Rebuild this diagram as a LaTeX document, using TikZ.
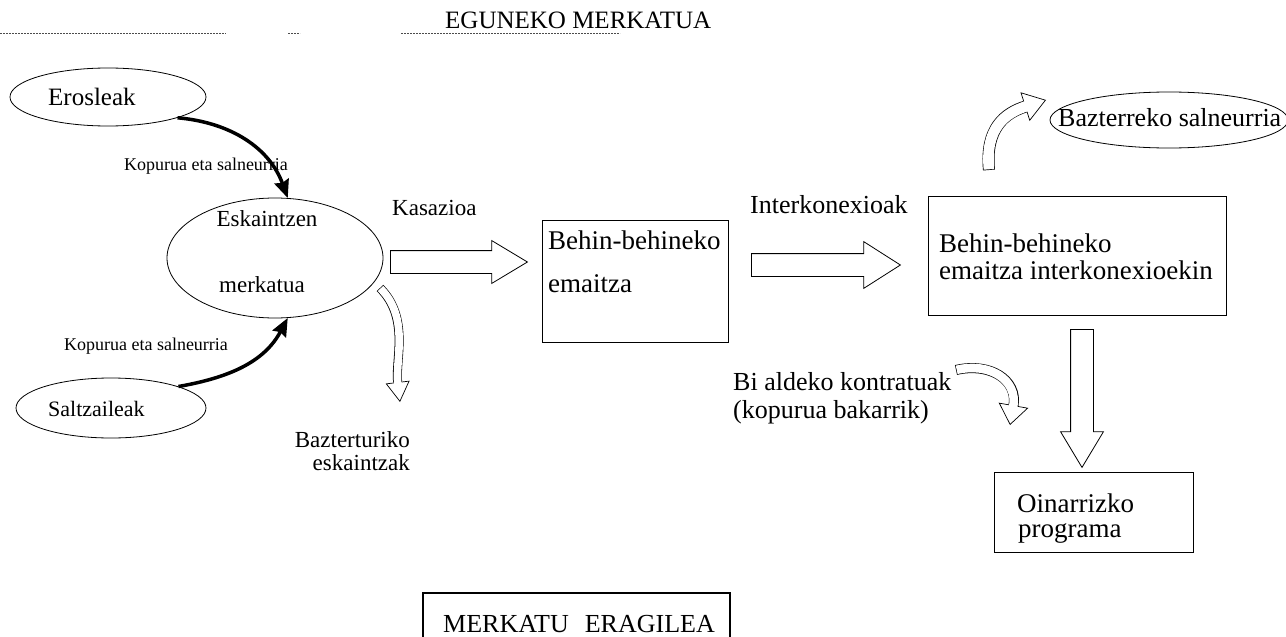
\documentclass[tikz,border=0pt]{standalone}
\usepackage{fontspec}
\setmainfont{Liberation Serif}
\usetikzlibrary{arrows.meta,positioning,shapes.geometric,shapes.arrows}
\newcommand{\bentarrow}[4]{% band, head width, head length, path
  \pgfmathsetlengthmacro{\bandin}{#1-1.4pt}%
  \pgfmathsetlengthmacro{\headcut}{#3-1.5pt}%
  \draw[line width=#1, -{Triangle[width=#2, length=#3, line width=0.7pt, fill=white]}] #4;
  \draw[white, line width=\bandin, shorten <=0.7pt, shorten >=\headcut] #4;
}
\tikzset{ell/.style={ellipse, draw=black, line width=0.8pt, inner sep=0pt},
         bx/.style={rectangle, draw=black, line width=0.9pt, inner sep=0pt},
         txt/.style={font=\fontsize{27}{31}\selectfont, inner sep=0pt},
         mid/.style={font=\fontsize{23}{27}\selectfont, inner sep=0pt},
         sml/.style={font=\fontsize{18}{21}\selectfont, inner sep=0pt},
         blk/.style={single arrow, draw=black, line width=0.8pt, fill=white,
            inner xsep=0pt, inner ysep=11pt, text height=0pt, text depth=0pt,
            single arrow head indent=0pt, anchor=tail},
         feed/.style={line width=3.5pt, -{Stealth[length=18pt,width=15pt,inset=2pt]}},
         topline/.style={line width=0.6pt, black!70, dash pattern=on 2pt off 1pt}}
\begin{document}
\begin{tikzpicture}[x=1pt, y=-1pt]
\path[fill=white, use as bounding box] (0,0) rectangle (1286,637);
% heading
\node[txt, anchor=west, font=\fontsize{25}{30}\selectfont] (title) at (445,20) {EGUNEKO MERKATUA};
\draw[topline] (0,33) -- (226,33);
\draw[topline] (288,33) -- (300,33);
\draw[topline] (401,33) -- (620,33);
% offers
\node[ell, minimum width=196pt, minimum height=58pt] (eros) at (108,97) {};
\node[mid, anchor=west, font=\fontsize{25}{29}\selectfont] (eros-t) at (48,97) {Erosleak};
\node[ell, minimum width=216pt, minimum height=120pt] (esk) at (275,258) {};
\node[mid] (esk-t1) at (267,219) {Eskaintzen};
\node[mid] (esk-t2) at (262,285) {merkatua};
\node[ell, minimum width=190pt, minimum height=60pt] (salt) at (111,408) {};
\node[mid, anchor=west, font=\fontsize{22}{26}\selectfont] (salt-t) at (48,409) {Saltzaileak};
\draw[feed] (eros.south east) to[out=-5, in=110] (esk.78);
\draw[feed] (salt.north east) to[out=10, in=-118] (esk.-78);
\node[sml] (kop1) at (206,166) {Kopurua eta salneurria};
\node[sml] (kop2) at (146,346) {Kopurua eta salneurria};
% rejected offers
\bentarrow{9pt}{24pt}{20pt}{(380,288) .. controls (410,318) and (395,360) .. (400,402)}
\node[mid, anchor=east] (bazt1) at (410,440) {Bazterturiko};
\node[mid, anchor=east] (bazt2) at (410,463) {eskaintzak};
% matching
\node[blk, minimum height=137pt, single arrow head extend=10pt,
      single arrow tip angle=62] (kas) at (390,262) {};
\node[mid, anchor=west] (kas-t) at (392,208) {Kasazioa};
\node[bx, minimum width=186pt, minimum height=122pt] (bh1) at (635,281) {};
\node[txt, anchor=west] (bh1-t1) at (548,240) {Behin-behineko};
\node[txt, anchor=west] (bh1-t2) at (548,284) {emaitza};
% interconnections
\node[blk, minimum height=149pt, single arrow head extend=12pt,
      single arrow tip angle=65] (int) at (751,265) {};
\node[txt, anchor=west, font=\fontsize{26}{30}\selectfont] (int-t) at (750,205) {Interkonexioak};
\node[bx, minimum width=298pt, minimum height=119pt] (bh2) at (1077,255.5) {};
\node[txt, anchor=west] (bh2-t1) at (939,243) {Behin-behineko};
\node[txt, anchor=west] (bh2-t2) at (939,270) {emaitza interkonexioekin};
\bentarrow{12pt}{30pt}{22pt}{(989,170) .. controls (985,128) and (1005,113) .. (1046,100)}
\node[ell, minimum width=238pt, minimum height=56pt] (marg) at (1169,120) {};
\node[txt, anchor=west, font=\fontsize{26}{30}\selectfont] (marg-t) at (1058,118) {Bazterreko salneurria};
% bilateral contracts
\bentarrow{10pt}{30pt}{20pt}{(956,370) .. controls (990,362) and (1018,380) .. (1010,425)}
\node[txt, anchor=west, font=\fontsize{26}{30}\selectfont] (bil1) at (733,382) {Bi aldeko kontratuak};
\node[txt, anchor=west, font=\fontsize{26}{30}\selectfont] (bil2) at (733,412) {(kopurua bakarrik)};
\node[blk, minimum height=138pt, single arrow head extend=10pt,
      single arrow tip angle=62, rotate=-90] (down) at (1082,329) {};
\node[bx, minimum width=199pt, minimum height=80pt] (oin) at (1093.5,512) {};
\node[txt, anchor=west] (oin-t1) at (1017,503) {Oinarrizko};
\node[txt, anchor=west] (oin-t2) at (1018,533) {programa};
% operator
\node[bx, line width=2pt, minimum width=307pt, minimum height=66pt] (op) at (576.5,626) {};
\node[txt, anchor=west, font=\fontsize{26}{30}\selectfont] (op-t) at (443,624) {MERKATU\hspace{16pt}ERAGILEA};
\end{tikzpicture}
\end{document}
